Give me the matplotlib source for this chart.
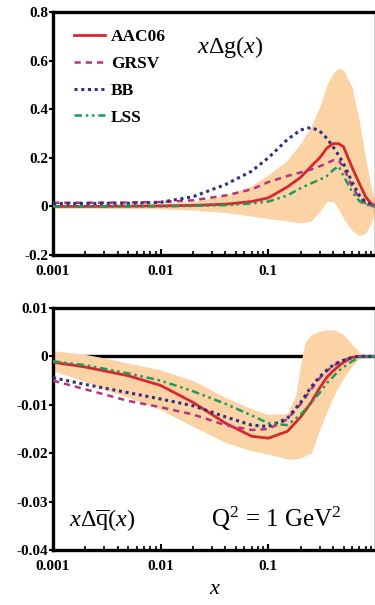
import matplotlib
matplotlib.use("Agg")
import matplotlib.pyplot as plt
from matplotlib.ticker import FixedLocator, LogLocator, NullFormatter

plt.rcParams['font.family'] = ['Liberation Serif', 'DejaVu Serif']
plt.rcParams['mathtext.fontset'] = 'custom'
plt.rcParams['mathtext.rm'] = 'Liberation Serif'
plt.rcParams['mathtext.it'] = 'Liberation Serif:italic'
plt.rcParams['mathtext.bf'] = 'Liberation Serif:bold'

# ---------------- data ----------------
x = [0.001, 0.002, 0.005, 0.01, 0.02, 0.04, 0.07, 0.1, 0.15, 0.2, 0.25,
     0.3, 0.35, 0.4, 0.45, 0.5, 0.6, 0.7, 0.8, 0.9, 1.0]

# x*Delta g(x)
g_aac06 = [0.0, 0.0, 0.001, 0.002, 0.004, 0.009, 0.02, 0.035, 0.08, 0.12, 0.165,
           0.2, 0.24, 0.258, 0.258, 0.245, 0.16, 0.095, 0.04, 0.012, 0.0]
g_grsv = [0.015, 0.015, 0.016, 0.018, 0.025, 0.045, 0.07, 0.1, 0.125, 0.14, 0.152,
          0.165, 0.178, 0.19, 0.19, 0.16, 0.08, 0.035, 0.012, 0.003, 0.0]
g_bb = [0.012, 0.012, 0.013, 0.017, 0.04, 0.09, 0.145, 0.2, 0.275, 0.315, 0.325,
        0.31, 0.28, 0.245, 0.21, 0.175, 0.1, 0.045, 0.018, 0.005, 0.0]
g_lss = [0.0, 0.0, 0.0, 0.0, 0.002, 0.005, 0.012, 0.02, 0.045, 0.075, 0.095,
         0.11, 0.125, 0.15, 0.165, 0.125, 0.06, 0.022, 0.008, 0.002, 0.0]
g_band_hi = [0.008, 0.008, 0.01, 0.013, 0.02, 0.045, 0.085, 0.13, 0.19, 0.26, 0.33,
             0.41, 0.5, 0.55, 0.57, 0.56, 0.49, 0.35, 0.2, 0.08, 0.01]
g_band_lo = [-0.008, -0.008, -0.009, -0.01, -0.015, -0.025, -0.04, -0.05, -0.06, -0.068, -0.06,
             -0.02, 0.02, 0.02, -0.01, -0.05, -0.1, -0.12, -0.11, -0.07, -0.01]

# x*Delta qbar(x)
q_aac06 = [-0.0012, -0.0022, -0.004, -0.006, -0.0095, -0.0138, -0.0165, -0.0169, -0.0155, -0.0125, -0.0095,
           -0.0065, -0.0043, -0.003, -0.002, -0.0012, -0.0002, 0.0, 0.0, 0.0, 0.0]
q_grsv = [-0.005, -0.0068, -0.0092, -0.0105, -0.012, -0.0142, -0.0152, -0.015, -0.013, -0.0098, -0.0068,
          -0.0045, -0.003, -0.002, -0.0013, -0.0008, -0.0002, 0.0, 0.0, 0.0, 0.0]
q_bb = [-0.0044, -0.0058, -0.0075, -0.0088, -0.0102, -0.0125, -0.0142, -0.0145, -0.0128, -0.0095, -0.0063,
        -0.0042, -0.0028, -0.0018, -0.0012, -0.0008, -0.0002, 0.0, 0.0, 0.0, 0.0]
q_lss = [-0.001, -0.0018, -0.0035, -0.005, -0.0072, -0.0098, -0.0122, -0.0138, -0.0142, -0.012, -0.0096,
         -0.0075, -0.0055, -0.0042, -0.003, -0.0022, -0.001, -0.0002, 0.0, 0.0, 0.0]

x_qband = [0.001, 0.002, 0.003, 0.005, 0.01, 0.02, 0.04, 0.07, 0.1, 0.15, 0.18, 0.2, 0.22, 0.25,
           0.3, 0.35, 0.4, 0.45, 0.5, 0.6, 0.7, 0.8, 0.9, 1.0]
q_band_hi = [0.0012, 0.0004, -0.0003, -0.0014, -0.0028, -0.005, -0.0085, -0.0108, -0.012, -0.0118, -0.008, -0.0015, 0.003, 0.0045,
             0.0052, 0.0055, 0.0055, 0.005, 0.0045, 0.0025, 0.0008, 0.0002, 0.0001, 0.0]
q_band_lo = [-0.003, -0.0052, -0.0068, -0.0085, -0.011, -0.0145, -0.0178, -0.0195, -0.0202, -0.0212, -0.0212, -0.021, -0.0205, -0.02,
             -0.0152, -0.0115, -0.0084, -0.0062, -0.0045, -0.002, -0.0004, -0.0001, 0.0, 0.0]

labels = ['AAC06', 'GRSV', 'BB', 'LSS']
x_ticks = [0.001, 0.01, 0.1]
x_ticklabels = ['0.001', '0.01', '0.1']
g_yticks = [-0.2, 0, 0.2, 0.4, 0.6, 0.8]
g_yticklabels = ['-0.2', '0', '0.2', '0.4', '0.6', '0.8']
q_yticks = [-0.04, -0.03, -0.02, -0.01, 0, 0.01]
q_yticklabels = ['-0.04', '-0.03', '-0.02', '-0.01', '0', '0.01']

# ---------------- styles ----------------
colors = ['#d8262f', '#b5347c', '#2e3180', '#1f9a5c']
styles = [dict(ls='-', lw=2.0),
          dict(ls=(0, (2.5, 2.0)), lw=1.8),
          dict(ls=(0, (1.0, 1.2)), lw=2.2),
          dict(ls=(0, (3.0, 1.5, 1.0, 1.5, 1.0, 1.5)), lw=1.8)]
band_color = '#fcd3a5'

W, H = 375, 605
fig = plt.figure(figsize=(W / 100, H / 100), dpi=100)

def px_axes(l, t, r, b):
    return fig.add_axes([l / W, 1 - b / H, (r - l) / W, (b - t) / H])

ax1 = px_axes(53, 12, 376, 255)
ax2 = px_axes(53, 308, 376, 550)

def style_axes(ax, yticks, yticklabels, ylim):
    ax.set_xscale('log')
    ax.set_xlim(0.001, 1.0)
    ax.set_ylim(*ylim)
    ax.xaxis.set_major_locator(FixedLocator(x_ticks))
    ax.set_xticklabels(x_ticklabels)
    ax.xaxis.set_minor_locator(LogLocator(base=10, subs=range(2, 10)))
    ax.xaxis.set_minor_formatter(NullFormatter())
    ax.set_yticks(yticks)
    ax.set_yticklabels(yticklabels)
    for s in ax.spines.values():
        s.set_linewidth(2.4)
    ax.tick_params(axis='x', which='major', direction='in', length=4, width=1.5,
                   labelsize=11, pad=7, top=False)
    ax.tick_params(axis='x', which='minor', direction='in', length=3, width=1.2, top=False)
    ax.tick_params(axis='y', which='major', direction='out', length=3, width=1.5,
                   labelsize=11, pad=0.5, right=False)
    for lab in ax.get_xticklabels() + ax.get_yticklabels():
        lab.set_fontweight('bold')

# top panel
ax1.fill_between(x, g_band_lo, g_band_hi, color=band_color, lw=0, zorder=1)
for series, c, st, lab in zip([g_aac06, g_grsv, g_bb, g_lss], colors, styles, labels):
    ax1.plot(x, series, color=c, label=lab, zorder=3, **st)
style_axes(ax1, g_yticks, g_yticklabels, (-0.2, 0.8))
leg = ax1.legend(loc='upper left', bbox_to_anchor=(0.045, 0.96), frameon=False,
                 prop=dict(family='Liberation Serif', weight='bold', size=12.5),
                 handlelength=1.75, handletextpad=0.35, labelspacing=0.62, borderaxespad=0)
ax1.text(0.445, 0.855, r'$x\Delta\mathrm{g}(x)$', transform=ax1.transAxes,
         fontsize=17.5, ha='left', va='center')

# bottom panel
ax2.axhline(0, color='black', lw=2.4, zorder=1)
ax2.fill_between(x_qband, q_band_lo, q_band_hi, color=band_color, lw=0, zorder=2)
for series, c, st, lab in zip([q_aac06, q_grsv, q_bb, q_lss], colors, styles, labels):
    ax2.plot(x, series, color=c, label=lab, zorder=3, **st)
style_axes(ax2, q_yticks, q_yticklabels, (-0.04, 0.01))
ax2.text(0.05, 0.125, r'$x\Delta\overline{\mathrm{q}}(x)$', transform=ax2.transAxes,
         fontsize=17.5, ha='left', va='center')
ax2.text(0.49, 0.13, r'$\mathrm{Q}^2\,=\,1\ \mathrm{GeV}^2$', transform=ax2.transAxes,
         fontsize=18, ha='left', va='center')
ax2.set_xlabel(r'$x$', fontsize=16, labelpad=5)

fig.savefig('out.png', dpi=100)
